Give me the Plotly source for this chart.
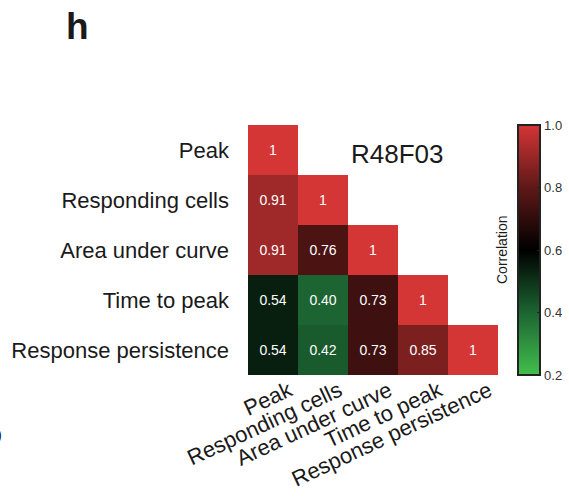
import plotly.graph_objects as go

variables = ["Peak", "Responding cells", "Area under curve", "Time to peak", "Response persistence"]
# lower-triangular correlation matrix (rows = y, cols = x)
row_peak = [1.0, None, None, None, None]
row_resp = [0.91, 1.0, None, None, None]
row_auc = [0.91, 0.76, 1.0, None, None]
row_ttp = [0.54, 0.40, 0.73, 1.0, None]
row_pers = [0.54, 0.42, 0.73, 0.85, 1.0]
matrix = [row_peak, row_resp, row_auc, row_ttp, row_pers]
cbar_ticks = [0.2, 0.4, 0.6, 0.8, 1.0]


def fmt(v):
    if v is None:
        return ""
    return "1" if v == 1.0 else f"{v:.2f}"


text = [[fmt(v) for v in row] for row in matrix]

colorscale = [
    [0.0, "#42bf4c"],
    [0.25, "#1c6532"],
    [0.5, "#000000"],
    [0.75, "#5f1818"],
    [1.0, "#d43535"],
]

font_family = "Liberation Sans, Arial, sans-serif"

fig = go.Figure(
    go.Heatmap(
        z=matrix,
        x=variables,
        y=variables,
        text=text,
        texttemplate="%{text}",
        textfont=dict(color="white", size=14, family=font_family),
        colorscale=colorscale,
        zmin=0.2,
        zmax=1.0,
        hoverongaps=False,
        colorbar=dict(
            x=1.04,
            xanchor="left",
            y=0.5,
            yanchor="middle",
            len=1.0,
            ypad=0,
            thickness=22,
            outlinecolor="#222222",
            outlinewidth=2,
            tickvals=cbar_ticks,
            ticktext=[f"{v:.1f}" for v in cbar_ticks],
            ticks="inside",
            ticklen=4,
            tickcolor="#222222",
            tickfont=dict(size=13, color="#333333", family=font_family),
        ),
    )
)

fig.update_layout(
    width=569,
    height=502,
    margin=dict(l=248, r=71, t=125, b=127, autoexpand=False),
    paper_bgcolor="white",
    plot_bgcolor="white",
    font=dict(family=font_family, color="#1a1a1a"),
    xaxis=dict(
        tickangle=-25,
        tickfont=dict(size=22, color="#1a1a1a"),
        showgrid=False,
        zeroline=False,
        showline=False,
        ticks="",
        ticklabelshift=16,
        ticklabelstandoff=-2,
    ),
    yaxis=dict(
        autorange="reversed",
        tickfont=dict(size=22, color="#1a1a1a"),
        showgrid=False,
        zeroline=False,
        showline=False,
        ticks="",
        ticklabelstandoff=18,
    ),
    annotations=[
        dict(text="R48F03", x=0.596, y=0.952, xref="paper", yref="paper",
             showarrow=False, font=dict(size=26, color="#1a1a1a")),
        dict(text="<b>h</b>", x=-0.736, y=1.484, xref="paper", yref="paper",
             showarrow=False, font=dict(size=37, color="#1a1a1a")),
        dict(text="Correlation", x=1.056, y=0.5, xref="paper", yref="paper",
             showarrow=False, textangle=-90, font=dict(size=14, color="#1a1a1a")),
        dict(text="0", x=-1.008, y=-0.24, xref="paper", yref="paper",
             xanchor="center", yanchor="middle", showarrow=False,
             font=dict(size=21, color="#1a1a1a")),
    ],
)

fig.write_html("out.html")
